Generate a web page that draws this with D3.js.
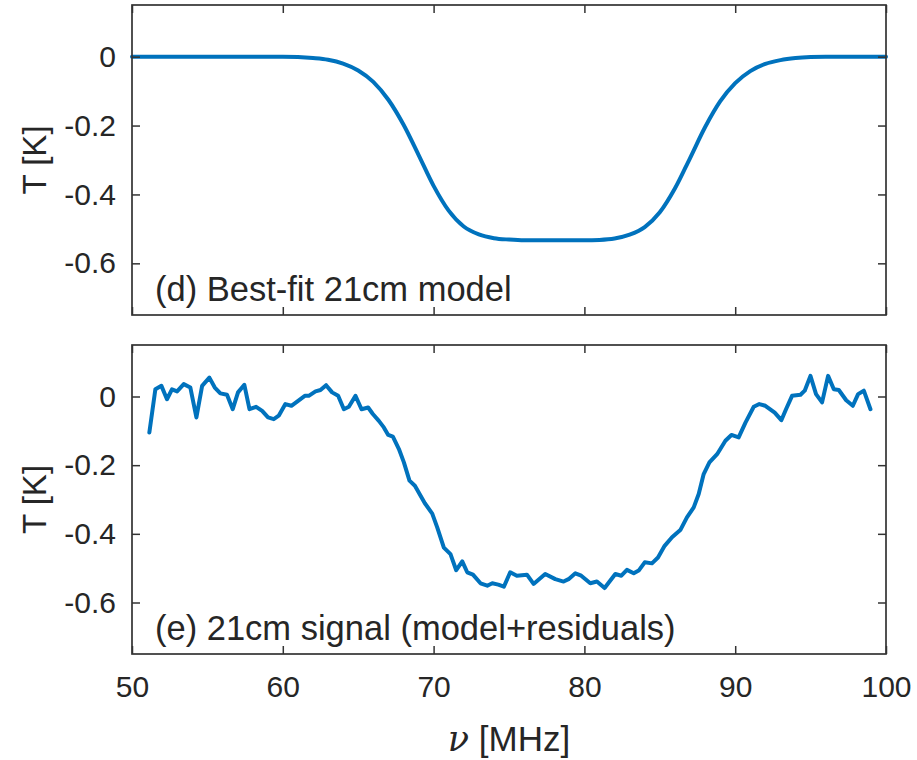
<!DOCTYPE html>
<html>
<head>
<meta charset="utf-8">
<script src="https://cdn.jsdelivr.net/npm/d3@7"></script>
<style>
  html, body { margin: 0; padding: 0; background: #fff; }
  svg { display: block; }
  text { font-family: "Liberation Sans", Arial, Helvetica, sans-serif; fill: #262626; }
</style>
</head>
<body>
<svg id="chart" width="917" height="760"></svg>
<script>
// ---- data ----
const modelFreq = [50,51,52,53,54,55,56,57,58,59,60,61,62,63,64,65,66,67,68,69,70,71,72,73,74,75,76,77,78,79,80,81,82,83,84,85,86,87,88,89,90,91,92,93,94,95,96,97,98,99,100];
const modelTemp = [0,0,0,0,0,0,0,0,0,0,0,-0.001,-0.004,-0.009,-0.02,-0.04,-0.073,-0.125,-0.197,-0.285,-0.375,-0.447,-0.493,-0.516,-0.527,-0.531,-0.533,-0.533,-0.533,-0.533,-0.533,-0.532,-0.528,-0.517,-0.495,-0.452,-0.383,-0.295,-0.205,-0.13,-0.077,-0.042,-0.021,-0.01,-0.004,-0.001,0,0,0,0,0];

const signalFreq = [51.15,51.55,51.95,52.32,52.65,52.99,53.43,53.87,54.27,54.65,55.13,55.49,55.86,56.3,56.68,57.03,57.45,57.79,58.23,58.63,59.02,59.4,59.73,60.17,60.57,61.06,61.46,61.72,62.17,62.5,62.87,63.27,63.67,64.05,64.38,64.82,65.22,65.66,65.97,66.37,66.7,66.99,67.3,67.7,68.03,68.4,68.76,69.07,69.42,69.91,70.24,70.68,71.12,71.5,71.9,72.23,72.61,73.11,73.56,73.89,74.29,74.66,
  75.08,75.52,76.19,76.63,77.4,78.07,78.62,78.95,79.4,79.79,80.39,80.83,81.34,82.05,82.45,82.82,83.27,83.6,84.0,84.48,84.88,85.32,85.81,86.36,86.8,87.25,87.58,87.91,88.29,88.8,89.35,89.75,90.23,90.68,91.23,91.6,92.0,92.62,93.06,93.37,93.77,94.33,94.61,94.99,95.36,95.76,96.16,96.54,96.87,97.36,97.8,98.15,98.53,98.97];
const signalTemp = [-0.105,0.021,0.031,-0.008,0.021,0.015,0.036,0.026,-0.061,0.031,0.055,0.026,0.009,0.005,-0.037,0.012,0.034,-0.037,-0.030,-0.042,-0.061,-0.066,-0.056,-0.022,-0.027,-0.011,0.002,0.002,0.015,0.019,0.033,0.012,0.002,-0.037,-0.030,0.002,-0.037,-0.032,-0.051,-0.071,-0.090,-0.112,-0.117,-0.153,-0.192,-0.245,-0.260,-0.284,-0.311,-0.341,-0.381,-0.440,-0.459,-0.506,-0.480,-0.512,-0.519,-0.544,-0.551,-0.544,-0.548,-0.554,
  -0.512,-0.522,-0.519,-0.546,-0.517,-0.532,-0.539,-0.532,-0.515,-0.522,-0.544,-0.539,-0.558,-0.517,-0.522,-0.505,-0.515,-0.507,-0.483,-0.486,-0.469,-0.435,-0.410,-0.389,-0.352,-0.323,-0.284,-0.226,-0.192,-0.168,-0.129,-0.112,-0.119,-0.076,-0.030,-0.022,-0.027,-0.047,-0.069,-0.037,0.002,0.005,0.017,0.060,0.007,-0.017,0.060,0.021,0.019,-0.011,-0.027,0.007,0.017,-0.037];

const xTicks = [50,60,70,80,90,100];
const yTicks = [-0.6,-0.4,-0.2,0];
const panelLabels = ["(d) Best-fit 21cm model", "(e) 21cm signal (model+residuals)"];
const yLabel = "T [K]";

// ---- layout ----
const svg = d3.select("#chart");
const L = 132, R = 886;
const panels = [
  { top: 5, bottom: 315, freq: modelFreq, temp: modelTemp, label: panelLabels[0], curve: d3.curveMonotoneX, showX: false },
  { top: 345, bottom: 654, freq: signalFreq, temp: signalTemp, label: panelLabels[1], curve: d3.curveLinear, showX: true }
];
const x = d3.scaleLinear().domain([50, 100]).range([L, R]);
const axisColor = "#333333";
const tickLen = 8;
const fmt = v => (v === 0 ? "0" : v.toFixed(1).replace("\u2212", "-"));

panels.forEach(p => {
  const y = d3.scaleLinear().domain([-0.75, 0.15]).range([p.bottom, p.top]);
  const g = svg.append("g");

  // data line
  const line = d3.line().x((d, i) => x(p.freq[i])).y((d, i) => y(p.temp[i])).curve(p.curve);
  g.append("path").datum(p.temp)
    .attr("d", line)
    .attr("fill", "none")
    .attr("stroke", "#0072BD")
    .attr("stroke-width", 4)
    .attr("stroke-linejoin", "round")
    .attr("stroke-linecap", "round");

  // axes (inward ticks) using d3 axes
  const axL = d3.axisLeft(y).tickValues(yTicks).tickSizeInner(-tickLen).tickSizeOuter(0).tickPadding(16).tickFormat(fmt);
  const axR = d3.axisRight(y).tickValues(yTicks).tickSizeInner(-tickLen).tickSizeOuter(0).tickFormat("");
  const axB = d3.axisBottom(x).tickValues(xTicks).tickSizeInner(-tickLen).tickSizeOuter(0).tickPadding(22).tickFormat(p.showX ? d3.format("d") : "");
  const axT = d3.axisTop(x).tickValues(xTicks).tickSizeInner(-tickLen).tickSizeOuter(0).tickFormat("");

  const gl = g.append("g").attr("transform", `translate(${L},0)`).call(axL);
  const gr = g.append("g").attr("transform", `translate(${R},0)`).call(axR);
  const gb = g.append("g").attr("transform", `translate(0,${p.bottom})`).call(axB);
  const gt = g.append("g").attr("transform", `translate(0,${p.top})`).call(axT);

  [gl, gr, gb, gt].forEach(a => {
    a.select(".domain").remove();
    a.selectAll(".tick line").attr("stroke", axisColor).attr("stroke-width", 1.5);
    a.selectAll(".tick text")
      .attr("fill", "#262626")
      .style("font-family", '"Liberation Sans", Arial, sans-serif')
      .style("font-size", "30px");
  });

  // box
  g.append("rect")
    .attr("x", L).attr("y", p.top)
    .attr("width", R - L).attr("height", p.bottom - p.top)
    .attr("fill", "none").attr("stroke", axisColor).attr("stroke-width", 1.7);

  // panel label
  g.append("text")
    .attr("x", L + 23).attr("y", p.bottom - 14)
    .style("font-size", "34.5px")
    .attr("fill", "#111")
    .text(p.label);

  // y label
  g.append("text")
    .attr("transform", `translate(46,${(p.top + p.bottom) / 2}) rotate(-90)`)
    .attr("text-anchor", "middle")
    .style("font-size", "33px")
    .text(yLabel);
});

// x label
const xl = svg.append("text")
  .attr("x", (L + R) / 2).attr("y", 751)
  .attr("text-anchor", "middle")
  .style("font-size", "35px");
xl.append("tspan").style("font-style", "italic").style("font-family", '"DejaVu Serif", "Liberation Serif", serif').text("\u03BD");
xl.append("tspan").text(" [MHz]");
</script>
</body>
</html>
